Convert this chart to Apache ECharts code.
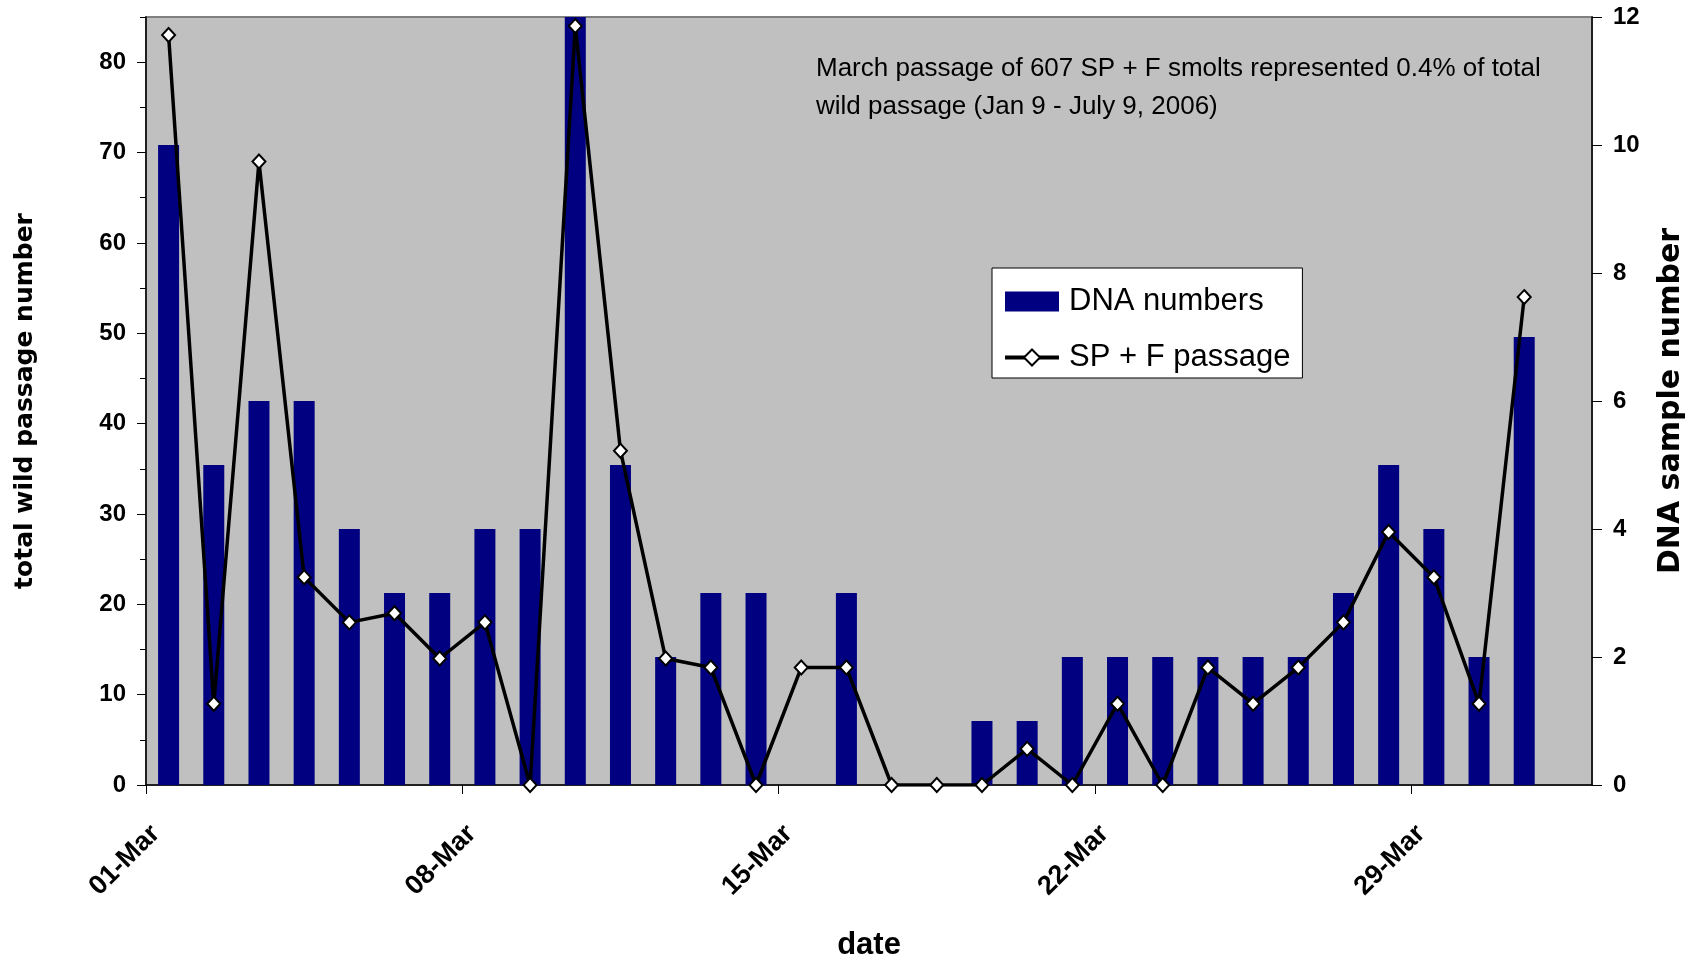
<!DOCTYPE html>
<html><head><meta charset="utf-8">
<script src="https://cdn.jsdelivr.net/npm/echarts@6/dist/echarts.min.js"></script>
<style>html,body{margin:0;padding:0;background:#fff}#c{width:1702px;height:960px}</style>
</head><body><div id="c"></div>
<script>
// one slot per day (bars / line points sit in the middle of each slot)
const dayCategories = ['01-Mar','02-Mar','03-Mar','04-Mar','05-Mar','06-Mar','07-Mar','08-Mar','09-Mar','10-Mar',
  '11-Mar','12-Mar','13-Mar','14-Mar','15-Mar','16-Mar','17-Mar','18-Mar','19-Mar','20-Mar',
  '21-Mar','22-Mar','23-Mar','24-Mar','25-Mar','26-Mar','27-Mar','28-Mar','29-Mar','30-Mar','31-Mar','01-Apr'];
// slot boundaries (date labels sit on the tick at the start of a day)
const boundaryLabels = ['01-Mar','02-Mar','03-Mar','04-Mar','05-Mar','06-Mar','07-Mar','08-Mar','09-Mar','10-Mar',
  '11-Mar','12-Mar','13-Mar','14-Mar','15-Mar','16-Mar','17-Mar','18-Mar','19-Mar','20-Mar',
  '21-Mar','22-Mar','23-Mar','24-Mar','25-Mar','26-Mar','27-Mar','28-Mar','29-Mar','30-Mar','31-Mar','01-Apr','02-Apr'];
const dnaNumbers = [10,5,6,6,4,3,3,4,4,12,5,2,3,3,0,3,0,0,1,1,2,2,2,2,2,2,3,5,4,2,7];
const spfPassage = [83,9,69,23,18,19,14,18,0,84,37,14,13,0,13,13,0,0,0,4,0,9,0,13,9,13,18,28,23,9,54];
const leftTicks = [0,10,20,30,40,50,60,70,80];
const leftMinorTicks = [5,15,25,35,45,55,65,75,85];
const rightTicks = [0,2,4,6,8,10,12];
const noteText = 'March passage of 607 SP + F smolts represented 0.4% of total\nwild passage (Jan 9 - July 9, 2006)';

const ARIAL = "'Liberation Sans', Arial, sans-serif";
const WIDE = "'DejaVu Sans', 'Liberation Sans', sans-serif";

const chart = echarts.init(document.getElementById('c'), null, {renderer: 'canvas'});
chart.setOption({
  animation: false,
  backgroundColor: '#ffffff',
  grid: {left: 146, right: 110, top: 17, bottom: 175, show: true, outerBoundsMode: 'none',
         containLabel: false,
         backgroundColor: '#c0c0c0', borderColor: '#808080', borderWidth: 2},
  legend: {
    orient: 'vertical', left: 992, top: 268,
    padding: [18, 12, 5, 11], itemGap: 25,
    itemWidth: 54, itemHeight: 20,
    backgroundColor: '#ffffff', borderColor: '#000000', borderWidth: 1,
    selectedMode: false,
    textStyle: {fontSize: 31, fontFamily: ARIAL, color: '#000', padding: [0, 0, 0, 5]},
    data: [{name: 'DNA numbers', icon: 'rect'},
           {name: 'SP + F passage', lineStyle: {width: 4}}]
  },
  graphic: [{
    type: 'text', left: 816, top: 50, silent: true,
    style: {text: noteText, font: '26px ' + ARIAL, fill: '#000', lineHeight: 38}
  }],
  xAxis: [
    {type: 'category', data: dayCategories, boundaryGap: true, show: false, position: 'bottom'},
    {type: 'category', data: boundaryLabels, boundaryGap: false, position: 'bottom',
     axisLine: {show: true, lineStyle: {color: '#000', width: 1.5}},
     axisTick: {show: true, interval: 6, length: 9, lineStyle: {color: '#000', width: 1}},
     axisLabel: {interval: 6, rotate: 45, margin: 35, verticalAlign: 'top', fontSize: 27, fontWeight: 'bold',
                 fontFamily: ARIAL, color: '#000'},
     splitLine: {show: false},
     name: 'date', nameLocation: 'middle', nameGap: 145,
     nameTextStyle: {fontSize: 31, fontWeight: 'bold', fontFamily: ARIAL, color: '#000'}}
  ],
  yAxis: [
    {type: 'value', position: 'left', min: 0, max: 85,
     axisLine: {show: true, lineStyle: {color: '#000', width: 1.5}},
     axisTick: {show: true, customValues: leftTicks, length: 9, lineStyle: {color: '#000'}},
     axisLabel: {customValues: leftTicks, fontSize: 24, fontWeight: 'bold', fontFamily: ARIAL,
                 color: '#000', margin: 20},
     splitLine: {show: false},
     name: 'total wild passage number', nameLocation: 'middle', nameGap: 108,
     nameTextStyle: {fontSize: 25, fontWeight: 'bold', fontFamily: WIDE, color: '#000'}},
    {type: 'value', position: 'left', min: 0, max: 85,
     axisLine: {show: false},
     axisTick: {show: true, customValues: leftMinorTicks, length: 6, lineStyle: {color: '#000'}},
     axisLabel: {show: false}, splitLine: {show: false}},
    {type: 'value', position: 'right', min: 0, max: 12, interval: 2,
     axisLine: {show: true, lineStyle: {color: '#000', width: 1.5}},
     axisTick: {show: true, customValues: rightTicks, length: 10, lineStyle: {color: '#000'}},
     axisLabel: {customValues: rightTicks, fontSize: 24, fontWeight: 'bold', fontFamily: ARIAL,
                 color: '#000', margin: 21},
     splitLine: {show: false},
     name: 'DNA sample number', nameLocation: 'middle', nameGap: 64,
     nameTextStyle: {fontSize: 30, fontWeight: 'bold', fontFamily: WIDE, color: '#000'}}
  ],
  series: [
    {name: 'DNA numbers', type: 'bar', xAxisIndex: 0, yAxisIndex: 2, data: dnaNumbers,
     barWidth: 21, itemStyle: {color: '#000080'}},
    {name: 'SP + F passage', type: 'line', xAxisIndex: 0, yAxisIndex: 0, data: spfPassage,
     symbol: 'diamond', symbolSize: [13, 14], showAllSymbol: true,
     lineStyle: {color: '#000', width: 3.5},
     itemStyle: {color: '#ffffff', borderColor: '#000', borderWidth: 2}}
  ]
});
</script></body></html>
